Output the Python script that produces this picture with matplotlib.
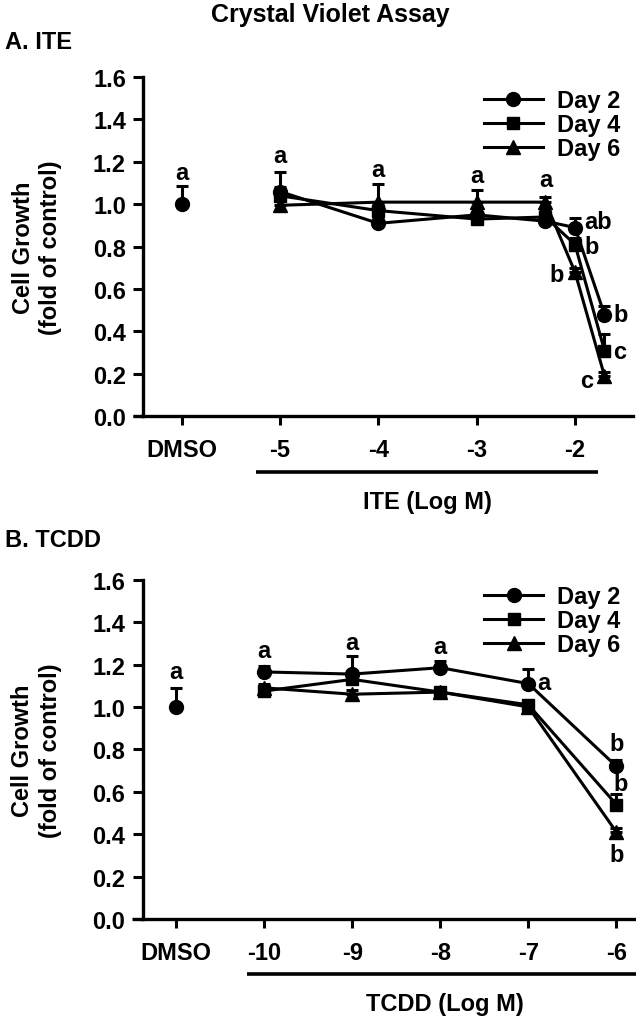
import matplotlib
matplotlib.use('Agg')
import matplotlib.pyplot as plt
import matplotlib.transforms as mtransforms
from matplotlib.lines import Line2D

plt.rcParams['font.family'] = ['Liberation Sans', 'DejaVu Sans']
plt.rcParams['font.weight'] = 'bold'

# Panel A: ITE
ite_x = [-5, -4, -3, -2.3, -2, -1.7]
ite_day2 = [1.06, 0.91, 0.95, 0.92, 0.89, 0.48]
ite_day4 = [1.04, 0.97, 0.93, 0.94, 0.81, 0.31]
ite_day6 = [0.995, 1.01, 1.01, 1.01, 0.68, 0.19]
ite_err2 = [0.09, 0.03, 0.03, 0.03, 0.045, 0.04]
ite_err4 = [0.04, 0.03, 0.03, 0.03, 0.03, 0.08]
ite_err6 = [0.03, 0.085, 0.055, 0.025, 0.02, 0.02]
ite_dmso_x = -6
ite_dmso = 1.0
ite_dmso_err = 0.085
ite_ticks = [-6, -5, -4, -3, -2]
ite_ticklabels = ['DMSO', '-5', '-4', '-3', '-2']
ite_letters = [(-6, 1.15, 'a', 'c'), (-5, 1.228, 'a', 'c'), (-4, 1.165, 'a', 'c'),
               (-3, 1.135, 'a', 'c'), (-2.3, 1.115, 'a', 'c'),
               (-2, 0.918, 'ab', 'r'), (-2, 0.80, 'b', 'r'), (-2, 0.67, 'b', 'l'),
               (-1.7, 0.48, 'b', 'r'), (-1.7, 0.306, 'c', 'r'), (-1.7, 0.17, 'c', 'l')]

# Panel B: TCDD
tcdd_x = [-10, -9, -8, -7, -6]
tcdd_day2 = [1.165, 1.155, 1.185, 1.11, 0.72]
tcdd_day4 = [1.075, 1.13, 1.07, 1.01, 0.54]
tcdd_day6 = [1.09, 1.06, 1.07, 1.00, 0.41]
tcdd_err2 = [0.03, 0.085, 0.03, 0.07, 0.03]
tcdd_err4 = [0.02, 0.03, 0.02, 0.02, 0.05]
tcdd_err6 = [0.02, 0.02, 0.02, 0.02, 0.02]
tcdd_dmso_x = -11
tcdd_dmso = 1.0
tcdd_dmso_err = 0.09
tcdd_ticks = [-11, -10, -9, -8, -7, -6]
tcdd_ticklabels = ['DMSO', '-10', '-9', '-8', '-7', '-6']
tcdd_letters = [(-11, 1.165, 'a', 'c'), (-10, 1.265, 'a', 'c'), (-9, 1.304, 'a', 'c'),
                (-8, 1.287, 'a', 'c'), (-7, 1.117, 'a', 'r'),
                (-6, 0.83, 'b', 'c'), (-5.95, 0.64, 'b', 'c'), (-6, 0.305, 'b', 'c')]

labels = ['Day 2', 'Day 4', 'Day 6']
markers = ['o', 's', '^']
msizes = [10, 8.5, 9.5]
FS = 17

fig = plt.figure(figsize=(6.36, 10.2), dpi=100)
axA = fig.add_axes([0.2253, 0.5909, 0.77, 0.3326])
axB = fig.add_axes([0.2244, 0.0980, 0.7725, 0.3327])


def draw_panel(ax, x, days, errs, dmso_x, dmso, dmso_err, ticks, ticklabels,
               letters, xlim, line_span, xlabel, legend_anchor):
    handles = []
    for vals, err, lab, m, ms in zip(days, errs, labels, markers, msizes):
        ax.errorbar(x, vals, yerr=[[0] * len(err), err], color='black',
                    marker=m, markersize=ms, lw=2.2, capsize=4.5,
                    capthick=2.2, elinewidth=2.2, zorder=3)
        handles.append(Line2D([], [], color='black', marker=m, markersize=ms,
                              lw=2.2, label=lab))
    ax.errorbar([dmso_x], [dmso], yerr=[[0], [dmso_err]], color='black',
                marker='o', markersize=10, lw=0, capsize=4.5, capthick=2.2,
                elinewidth=2.2, zorder=3)

    for lx, ly, txt, side in letters:
        dx, ha = {'c': (0, 'center'), 'r': (6.5, 'left'), 'l': (-8, 'right')}[side]
        ax.annotate(txt, (lx, ly), xytext=(dx, 0), textcoords='offset points',
                    ha=ha, va='center', fontsize=FS, fontweight='bold')

    ax.set_xlim(*xlim)
    ax.set_ylim(0, 1.6)
    ax.set_yticks([0, 0.2, 0.4, 0.6, 0.8, 1.0, 1.2, 1.4, 1.6])
    ax.set_yticklabels(['%.1f' % v for v in ax.get_yticks()])
    ax.set_xticks(ticks)
    ax.set_xticklabels(ticklabels)
    ax.tick_params(axis='y', direction='out', length=7.5, width=2.2,
                   labelsize=FS, pad=5)
    ax.tick_params(axis='x', direction='out', length=6.5, width=2.2,
                   labelsize=FS, pad=9)
    for s in ['top', 'right']:
        ax.spines[s].set_visible(False)
    for s in ['left', 'bottom']:
        ax.spines[s].set_linewidth(2.4)
    # x axis line runs a bit past the y axis, as in SigmaPlot
    ax.plot([-0.021, 0], [0, 0], transform=ax.transAxes, color='black',
            lw=2.4, clip_on=False, solid_capstyle='butt')

    ax.set_ylabel('Cell Growth\n(fold of control)', fontsize=FS,
                  fontweight='bold', labelpad=22, linespacing=1.25)

    trans = mtransforms.blended_transform_factory(ax.transData, ax.transAxes)
    ax.plot(line_span, [-0.163, -0.163], transform=trans, color='black',
            lw=2.6, clip_on=False, solid_capstyle='butt')
    ax.text(sum(line_span) / 2, -0.25, xlabel, transform=trans, ha='center',
            va='center', fontsize=FS, fontweight='bold')

    ax.legend(handles=handles, loc='upper left', bbox_to_anchor=legend_anchor,
              frameon=False, fontsize=FS, handlelength=2.5, handletextpad=0.6,
              labelspacing=0.05, borderpad=0, borderaxespad=0)


draw_panel(axA, ite_x, [ite_day2, ite_day4, ite_day6],
           [ite_err2, ite_err4, ite_err6], ite_dmso_x, ite_dmso, ite_dmso_err,
           ite_ticks, ite_ticklabels, ite_letters, (-6.39, -1.41),
           [-5.24, -1.77], 'ITE (Log M)', (0.695, 0.965))
draw_panel(axB, tcdd_x, [tcdd_day2, tcdd_day4, tcdd_day6],
           [tcdd_err2, tcdd_err4, tcdd_err6], tcdd_dmso_x, tcdd_dmso, tcdd_dmso_err,
           tcdd_ticks, tcdd_ticklabels, tcdd_letters, (-11.38, -5.8),
           [-10.2, -5.7], 'TCDD (Log M)', (0.695, 0.985))

fig.text(0.52, 0.985, 'Crystal Violet Assay', ha='center', va='center',
         fontsize=18, fontweight='bold')
fig.text(0.008, 0.958, 'A. ITE', ha='left', va='center', fontsize=FS,
         fontweight='bold')
fig.text(0.008, 0.470, 'B. TCDD', ha='left', va='center', fontsize=FS,
         fontweight='bold')

fig.savefig('out.png', dpi=100)
